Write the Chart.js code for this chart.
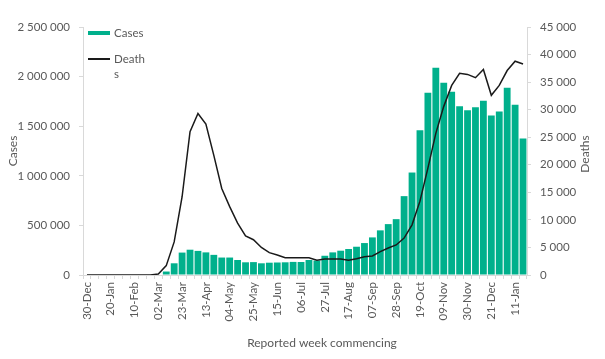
<!DOCTYPE html>
<html>
<head>
<meta charset="utf-8">
<script src="https://cdn.jsdelivr.net/npm/chart.js@4"></script>
<style>
  body { margin: 0; background: #fff; }
  #wrap { width: 605px; height: 359px; }
</style>
</head>
<body>
<div id="wrap"><canvas id="chart"></canvas></div>
<script>
// wochen (jeweils montag), jede dritte bekommt ein label
const weeks = [
    '30-Dec', '06-Jan', '13-Jan', '20-Jan', '27-Jan', '03-Feb', '10-Feb', '17-Feb', '24-Feb', '02-Mar',
    '09-Mar', '16-Mar', '23-Mar', '30-Mar', '06-Apr', '13-Apr', '20-Apr', '27-Apr', '04-May', '11-May',
    '18-May', '25-May', '01-Jun', '08-Jun', '15-Jun', '22-Jun', '29-Jun', '06-Jul', '13-Jul', '20-Jul',
    '27-Jul', '03-Aug', '10-Aug', '17-Aug', '24-Aug', '31-Aug', '07-Sep', '14-Sep', '21-Sep', '28-Sep',
    '05-Oct', '12-Oct', '19-Oct', '26-Oct', '02-Nov', '09-Nov', '16-Nov', '23-Nov', '30-Nov', '07-Dec',
    '14-Dec', '21-Dec', '28-Dec', '04-Jan', '11-Jan', '18-Jan'
];

// faelle pro woche (linke achse)
const cases = [
    0, 0, 0, 0, 0, 0, 0, 0, 0, 0,
    35000, 118000, 226000, 255000, 243000, 228000, 203000, 176000, 176000, 151000,
    128000, 130000, 118000, 124000, 126000, 128000, 132000, 131000, 151000, 146000,
    194000, 228000, 245000, 262000, 285000, 322000, 379000, 450000, 513000, 563000,
    795000, 1033000, 1459000, 1838000, 2089000, 1939000, 1848000, 1700000, 1660000, 1690000,
    1757000, 1607000, 1647000, 1888000, 1717000, 1375000
];

// todesfaelle pro woche (rechte achse)
const deaths = [
    0, 0, 0, 0, 0, 0, 0, 0, 0, 180,
    1700, 6000, 14200, 26000, 29300, 27400, 21700, 15700, 12400, 9400,
    7100, 6400, 5000, 4050, 3640, 3150, 3120, 3120, 3120, 2670,
    2900, 2900, 2900, 2680, 2950, 3300, 3450, 4250, 4900, 5450,
    6700, 9100, 13400, 19400, 25700, 30600, 34400, 36600, 36400, 35800,
    37300, 32600, 34400, 37100, 38800, 38300
];

const GREY = '#595959';
const AXIS = '#d9d9d9';
const TEAL = '#00b08c';
const LINE = '#1a1a1a';
const FONT_FAMILY = 'Lato, "Open Sans", sans-serif';

// zahlen mit leerzeichen als tausendertrenner
function spaced(v) {
    return v.toString().replace(/\B(?=(\d{3})+(?!\d))/g, ' ');
}

// legende und achsentitel selbst zeichnen (umbruch "Death / s" wie im original)
const extras = {
    id: 'extras',
    afterDraw(chart) {
        const ctx = chart.ctx;
        const area = chart.chartArea;
        ctx.save();
        ctx.font = '11.5px ' + FONT_FAMILY;
        ctx.textBaseline = 'middle';
        ctx.textAlign = 'left';

        const lx = area.left + 5;
        ctx.fillStyle = TEAL;
        ctx.fillRect(lx, area.top + 4, 22, 4);
        ctx.fillStyle = GREY;
        ctx.fillText('Cases', lx + 26, area.top + 6);

        ctx.strokeStyle = LINE;
        ctx.lineWidth = 2;
        ctx.beginPath();
        ctx.moveTo(lx, area.top + 32);
        ctx.lineTo(lx + 22, area.top + 32);
        ctx.stroke();
        ctx.fillText('Death', lx + 26, area.top + 32);
        ctx.fillText('s', lx + 26, area.top + 47);

        ctx.font = '12px ' + FONT_FAMILY;
        ctx.textAlign = 'center';
        ctx.fillText('Reported week commencing', (area.left + area.right) / 2 + 17, 343);

        ctx.translate(585, (area.top + area.bottom) / 2 + 3);
        ctx.rotate(-Math.PI / 2);
        ctx.fillText('Deaths', 0, 0);
        ctx.restore();
    }
};

const tickFont = { family: FONT_FAMILY, size: 11.5 };

new Chart(document.getElementById('chart'), {
    type: 'bar',
    data: {
        labels: weeks,
        datasets: [{
            type: 'line',
            label: 'Deaths',
            data: deaths,
            yAxisID: 'y1',
            borderColor: LINE,
            borderWidth: 1.5,
            pointRadius: 0,
            tension: 0,
            order: 1
        }, {
            type: 'bar',
            label: 'Cases',
            data: cases,
            yAxisID: 'y',
            backgroundColor: TEAL,
            categoryPercentage: 0.86,
            barPercentage: 1,
            order: 2
        }]
    },
    options: {
        responsive: true,
        maintainAspectRatio: false,
        animation: false,
        layout: { padding: { top: 27, right: 0, bottom: 5, left: 0 } },
        plugins: {
            legend: { display: false },
            tooltip: { enabled: false }
        },
        scales: {
            x: {
                offset: true,
                grid: { offset: true, drawOnChartArea: false, tickLength: 4, color: AXIS },
                border: { color: AXIS },
                ticks: {
                    autoSkip: false,
                    minRotation: 90,
                    maxRotation: 90,
                    padding: 3,
                    color: GREY,
                    font: tickFont,
                    callback: (v, i) => i % 3 === 0 ? weeks[i] : ''
                },
                afterFit: s => { s.height = 79; }
            },
            y: {
                position: 'left',
                min: 0,
                max: 2500000,
                grid: { drawOnChartArea: false, tickLength: 4, color: AXIS },
                border: { color: AXIS },
                ticks: { stepSize: 500000, padding: 9, color: GREY, font: tickFont, callback: v => spaced(v) },
                title: { display: true, text: 'Cases', color: GREY, font: { family: FONT_FAMILY, size: 12 }, padding: 6 },
                afterFit: s => { s.width = 83; }
            },
            y1: {
                position: 'right',
                min: 0,
                max: 45000,
                grid: { drawOnChartArea: false, tickLength: 4, color: AXIS },
                border: { color: AXIS },
                ticks: { stepSize: 5000, padding: 9, color: GREY, font: tickFont, callback: v => spaced(v) },
                afterFit: s => { s.width = 78; }
            }
        }
    },
    plugins: [extras]
});
</script>
</body>
</html>
